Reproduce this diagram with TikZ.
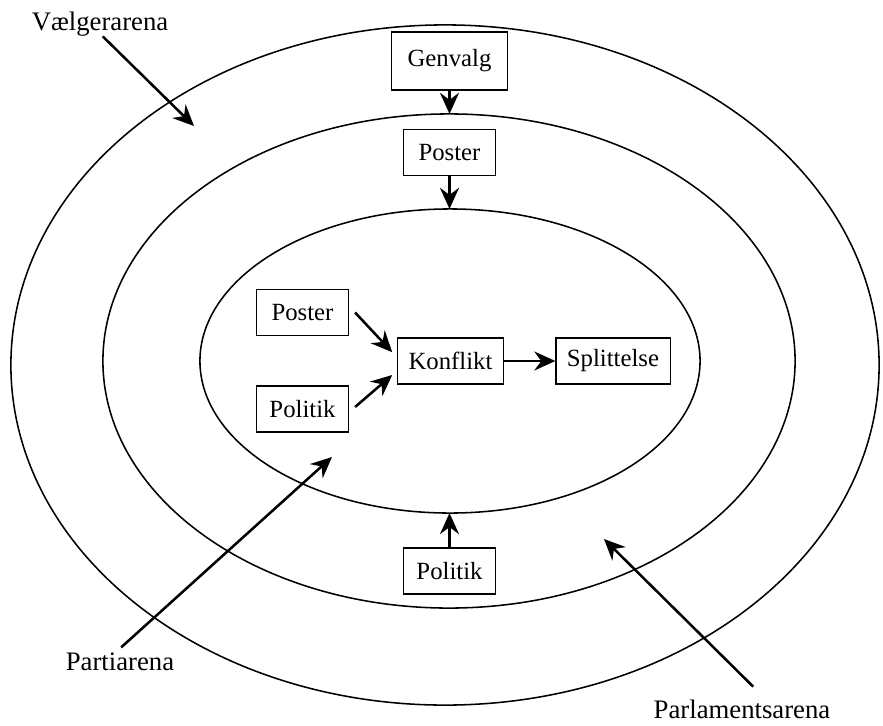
\documentclass[tikz,border=0pt]{standalone}
\usepackage{fontspec}
\setmainfont{Liberation Serif}
\usetikzlibrary{shapes, arrows.meta}
\tikzstyle{arena} = [ellipse, 
draw=black, 
line width=1.1pt, 
inner sep=0pt, 
outer sep=0pt]
\tikzstyle{box} = [rectangle, 
minimum width=2.3cm, 
minimum height=1.15cm, 
inner xsep=0.275cm, 
text centered, 
draw=black, 
line width=0.8pt, 
fill=white, 
font=\fontsize{17.6}{20}\selectfont]
\tikzstyle{arenaname} = [inner sep=0pt, 
font=\fontsize{19}{22}\selectfont]
\tikzstyle{arrow} = [line width=1.8pt,->,>={Stealth[length=15pt, width=13.5pt, inset=5pt]}]

\begin{document}
\begin{tikzpicture}[x=0.025cm, y=-0.025cm]
\useasboundingbox (0,0) rectangle (883,725);

% arenaer
\node (arena1) [arena, minimum width=21.7cm, minimum height=17cm] at (445,365) {};
\node (arena2) [arena, minimum width=17.3cm, minimum height=12.35cm] at (449,361) {};
\node (arena3) [arena, minimum width=12.5cm, minimum height=7.6cm] at (450,361) {};

\node (genvalg) [box, minimum width=2.9cm, minimum height=1.45cm] at (449.5,61) {Genvalg};
\node (poster1) [box] at (449.5,152.5) {Poster};
\node (politik1) [box] at (449.5,571) {Politik};

\node (poster2) [box] at (302.5,312.5) {Poster};
\node (politik2) [box] at (302.5,409) {Politik};
\node (konflikt) [box] at (450.5,361) {Konflikt};
\node (split) [box] at (613,361) {Splittelse};

\node (vaelger) [arenaname] at (100,24) {Vælgerarena};
\node (parti) [arenaname] at (120,662) {Partiarena};
\node (parlament) [arenaname] at (742,709) {Parlamentsarena};
\coordinate (tip1) at (194,126);
\coordinate (tip2) at (332,457);
\coordinate (tip3) at (604,539);

\draw [arrow] (genvalg) -- (genvalg |- arena2.north);
\draw [arrow] (poster1) -- (poster1 |- arena3.north);
\draw [arrow] (politik1) -- (politik1 |- arena3.south);

\draw [arrow] ([xshift=0.15cm]poster2.east) -- ([xshift=-0.12cm, yshift=0.22cm]konflikt.west);
\draw [arrow] ([xshift=0.15cm, yshift=0.05cm]politik2.east) -- ([xshift=-0.12cm, yshift=-0.35cm]konflikt.west);
\draw [arrow] (konflikt) -- (split);

\draw [arrow] ([xshift=0.07cm]vaelger.south) -- (tip1);
\draw [arrow, shorten <=0.2cm] ([xshift=-0.12cm]parti.north) -- (tip2);
\draw [arrow, shorten <=0.45cm] ([xshift=0.6cm]parlament.north) -- (tip3);

\end{tikzpicture}
\end{document}
